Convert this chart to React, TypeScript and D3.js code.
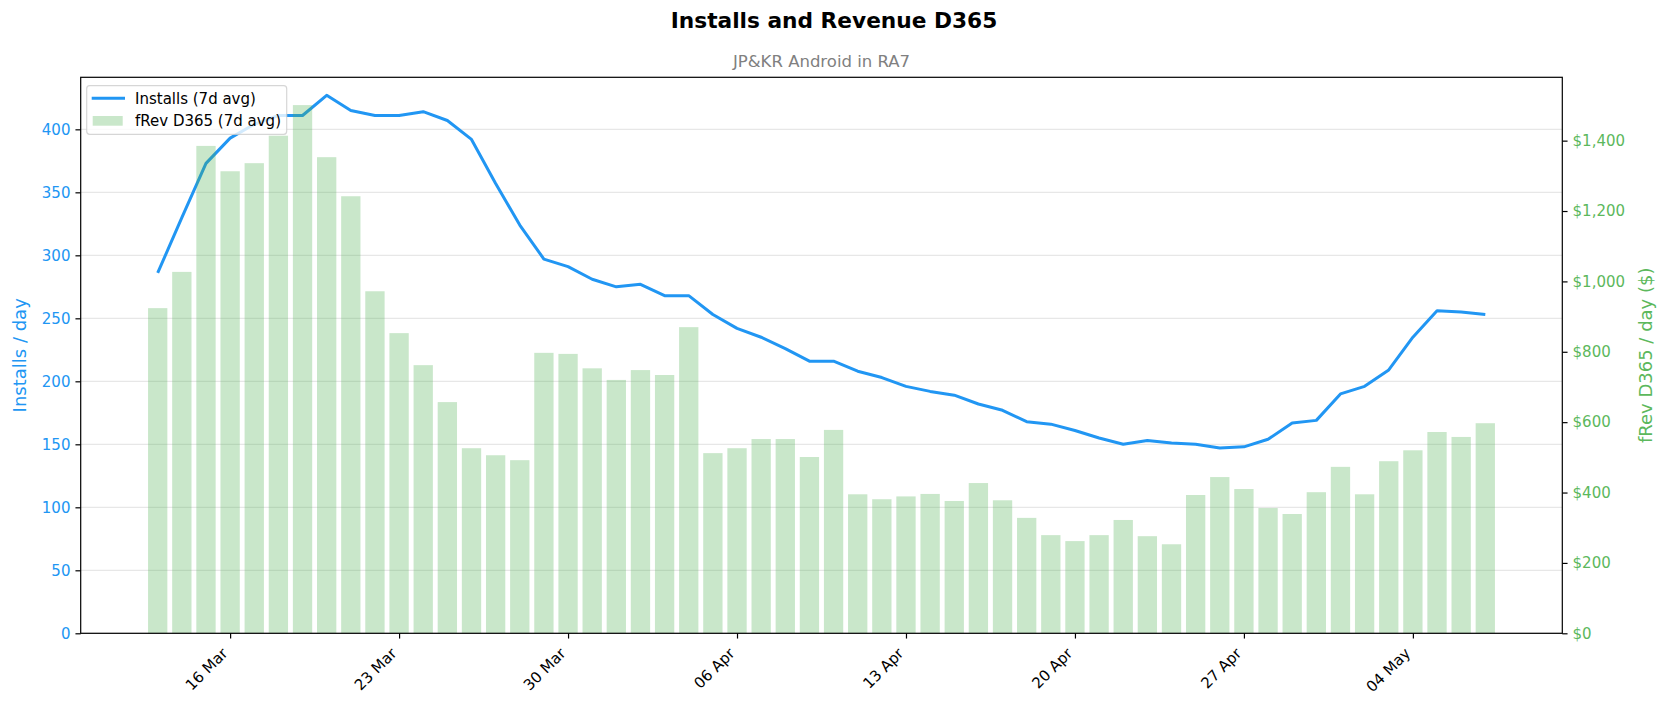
import { axisBottom, axisLeft, axisRight, format, line, scaleLinear, scaleUtc, select, utcDay, utcFormat } from "d3";
import { useEffect, useRef } from "react";

// days shown, 13 Mar .. 07 May
const dates = [
  "2025-03-13", "2025-03-14", "2025-03-15", "2025-03-16", "2025-03-17", "2025-03-18", "2025-03-19",
  "2025-03-20", "2025-03-21", "2025-03-22", "2025-03-23", "2025-03-24", "2025-03-25", "2025-03-26",
  "2025-03-27", "2025-03-28", "2025-03-29", "2025-03-30", "2025-03-31", "2025-04-01", "2025-04-02",
  "2025-04-03", "2025-04-04", "2025-04-05", "2025-04-06", "2025-04-07", "2025-04-08", "2025-04-09",
  "2025-04-10", "2025-04-11", "2025-04-12", "2025-04-13", "2025-04-14", "2025-04-15", "2025-04-16",
  "2025-04-17", "2025-04-18", "2025-04-19", "2025-04-20", "2025-04-21", "2025-04-22", "2025-04-23",
  "2025-04-24", "2025-04-25", "2025-04-26", "2025-04-27", "2025-04-28", "2025-04-29", "2025-04-30",
  "2025-05-01", "2025-05-02", "2025-05-03", "2025-05-04", "2025-05-05", "2025-05-06", "2025-05-07",
];

// installs, 7d avg
const installs = [
  286, 330, 373, 393, 404, 411, 411, 427, 415, 411, 411, 414, 407, 392,
  357, 324, 297, 291, 281, 275, 277, 268, 268, 253, 242, 235, 226, 216,
  216, 208, 203, 196, 192, 189, 182, 177, 168, 166, 161, 155, 150, 153,
  151, 150, 147, 148, 154, 167, 169, 190, 196, 209, 235, 256, 255, 253,
];

// fRev D365 $, 7d avg
const revenue = [
  924, 1027, 1385, 1313, 1336, 1414, 1501, 1353, 1242, 972, 853, 762, 657, 526,
  506, 492, 797, 794, 753, 720, 748, 734, 870, 512, 526, 552, 552, 501,
  578, 395, 381, 389, 396, 376, 427, 378, 328, 279, 262, 279, 322, 276,
  253, 393, 444, 410, 356, 339, 401, 473, 395, 489, 520, 572, 558, 597,
];

const xTicks = ["2025-03-16", "2025-03-23", "2025-03-30", "2025-04-06", "2025-04-13", "2025-04-20", "2025-04-27", "2025-05-04"];
const leftTicks = [0, 50, 100, 150, 200, 250, 300, 350, 400];
const rightTicks = [0, 200, 400, 600, 800, 1000, 1200, 1400];

const BLUE = "#2196F3";
const GREEN = "#4CAF50";
const GREEN_TEXT = "#5cb85c";
const FONT = "DejaVu Sans, sans-serif";

export default function App() {
  const width = 1668;
  const height = 712;
  const left = 80.7;
  const right = 1562.3;
  const top = 77.3;
  const bottom = 633.3;

  const days = dates.map((d) => new Date(d + "T00:00:00Z"));
  const pad = 3.19;
  const x = scaleUtc()
    .domain([
      new Date(days[0].getTime() - pad * 864e5),
      new Date(days[days.length - 1].getTime() + pad * 864e5),
    ])
    .range([left, right]);
  const dayW = x(utcDay.offset(days[0], 1)) - x(days[0]);
  const barW = dayW * 0.8;

  const yL = scaleLinear().domain([0, 441.3]).range([bottom, top]);
  const yR = scaleLinear().domain([0, 1580]).range([bottom, top]);

  const path = line<number>()
    .x((_, i) => x(days[i]))
    .y((v) => yL(v))(installs);

  const leftRef = useRef<SVGGElement>(null);
  const rightRef = useRef<SVGGElement>(null);
  const bottomRef = useRef<SVGGElement>(null);

  useEffect(() => {
    const style = (g) => {
      g.select(".domain").remove();
      g.selectAll(".tick line").attr("stroke", "#000").attr("stroke-width", 1.2);
      g.selectAll(".tick text").attr("font-size", 15).attr("font-family", FONT);
    };

    const gl = select(leftRef.current);
    gl.call(axisLeft(yL).tickValues(leftTicks).tickSize(5.25).tickPadding(5).tickSizeOuter(0));
    style(gl);
    gl.selectAll(".tick text").attr("fill", BLUE);

    const gr = select(rightRef.current);
    gr.call(
      axisRight(yR)
        .tickValues(rightTicks)
        .tickFormat((d) => "$" + format(",.0f")(d as number))
        .tickSize(5.25)
        .tickPadding(5)
        .tickSizeOuter(0)
    );
    style(gr);
    gr.selectAll(".tick text").attr("fill", GREEN_TEXT);

    const gb = select(bottomRef.current);
    gb.call(
      axisBottom(x)
        .tickValues(xTicks.map((d) => new Date(d + "T00:00:00Z")))
        .tickFormat((d) => utcFormat("%d %b")(d as Date))
        .tickSize(5.25)
        .tickSizeOuter(0)
    );
    style(gb);
    gb.selectAll(".tick text")
      .attr("fill", "#000")
      .attr("text-anchor", "end")
      .attr("x", null)
      .attr("y", null)
      .attr("dy", null)
      .attr("transform", "translate(-2,21) rotate(-45)");
  }, []);

  return (
    <div style={{ position: "absolute", left: 0, top: 0 }}>
      <svg width={width} height={height} style={{ display: "block", background: "#fff" }}>
        <text x={834} y={28.3} textAnchor="middle" fontFamily={FONT} fontWeight="bold" fontSize={21.7} fill="#000">
          Installs and Revenue D365
        </text>
        <text x={(left + right) / 2} y={66.5} textAnchor="middle" fontFamily={FONT} fontSize={16.5} fill="gray">
          JP&amp;KR Android in RA7
        </text>

        {/* grid */}
        {leftTicks.map((t) => (
          <line key={t} x1={left} x2={right} y1={yL(t)} y2={yL(t)} stroke="#b0b0b0" strokeOpacity={0.3} strokeWidth={1.2} />
        ))}

        <path d={path ?? ""} fill="none" stroke={BLUE} strokeWidth={3} strokeLinejoin="round" />

        {/* legend (ax1) */}
        <g>
          <rect x={86.7} y={85.7} width={200} height={48.6} rx={3} fill="#fff" fillOpacity={0.8} stroke="#cccccc" strokeOpacity={0.8} strokeWidth={1.2} />
          <line x1={91.7} x2={125} y1={98.3} y2={98.3} stroke={BLUE} strokeWidth={3} />
          <rect x={92.7} y={116} width={30} height={9.7} fill={GREEN} fillOpacity={0.3} />
          <text x={135} y={103.7} fontFamily={FONT} fontSize={15} fill="#000">
            Installs (7d avg)
          </text>
          <text x={135} y={126.2} fontFamily={FONT} fontSize={15} fill="#000">
            fRev D365 (7d avg)
          </text>
        </g>

        {/* bars (ax2, drawn over the line) */}
        {revenue.map((v, i) => (
          <rect
            key={dates[i]}
            x={x(days[i]) - barW / 2}
            y={yR(v)}
            width={barW}
            height={bottom - yR(v)}
            fill={GREEN}
            fillOpacity={0.3}
          />
        ))}

        <g ref={leftRef} transform={`translate(${left},0)`} />
        <g ref={rightRef} transform={`translate(${right},0)`} />
        <g ref={bottomRef} transform={`translate(0,${bottom})`} />

        <rect x={left} y={top} width={right - left} height={bottom - top} fill="none" stroke="#000" strokeWidth={1.2} />

        <text transform={`translate(19,${(top + bottom) / 2}) rotate(-90)`} textAnchor="middle" dominantBaseline="central" fontFamily={FONT} fontSize={18} fill={BLUE}>
          Installs / day
        </text>
        <text transform={`translate(1645,${(top + bottom) / 2}) rotate(-90)`} textAnchor="middle" dominantBaseline="central" fontFamily={FONT} fontSize={18} fill={GREEN_TEXT}>
          fRev D365 / day ($)
        </text>
      </svg>
    </div>
  );
}
